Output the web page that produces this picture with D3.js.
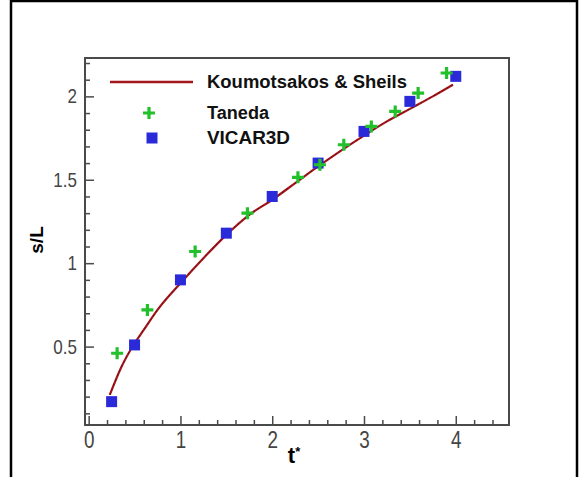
<!DOCTYPE html>
<html>
<head>
<meta charset="utf-8">
<script src="https://cdn.jsdelivr.net/npm/d3@7"></script>
<style>
  html, body { margin: 0; padding: 0; background: #fff; }
  svg { display: block; }
</style>
</head>
<body>
<svg id="chart" width="579" height="477"></svg>
<script>
// Koumotsakos & Sheils reference curve
const ksT = [0.23, 0.35, 0.5, 0.6, 0.75, 1.0, 1.25, 1.5, 1.75, 2.0, 2.25, 2.5, 2.75, 3.0, 3.25, 3.5, 3.75, 3.97];
const ksS = [0.21, 0.37, 0.52, 0.60, 0.72, 0.88, 1.03, 1.17, 1.29, 1.38, 1.48, 1.58, 1.675, 1.765, 1.85, 1.925, 2.0, 2.07];

// Taneda experiment
const tanedaT = [0.31, 0.64, 1.16, 1.73, 2.28, 2.52, 2.78, 3.08, 3.34, 3.59, 3.90];
const tanedaS = [0.46, 0.72, 1.07, 1.30, 1.515, 1.59, 1.71, 1.82, 1.91, 2.02, 2.14];

// VICAR3D simulation
const vicarT = [0.25, 0.5, 1.0, 1.5, 2.0, 2.5, 3.0, 3.5, 4.0];
const vicarS = [0.17, 0.51, 0.90, 1.18, 1.40, 1.60, 1.79, 1.97, 2.12];

const xTicks = [0, 1, 2, 3, 4];
const yTicks = [0.5, 1, 1.5, 2];
const seriesNames = ["Koumotsakos & Sheils", "Taneda", "VICAR3D"];

const svg = d3.select("#chart");
const box = { left: 85, right: 509, top: 58, bottom: 425 };

const x = d3.scaleLinear().domain([-0.04, 4.58]).range([box.left, box.right]);
const y = d3.scaleLinear().domain([0.03, 2.23]).range([box.bottom, box.top]);

const axisColor = "#4a4a4a";
const labelFont = "'Liberation Sans', Arial, sans-serif";

// outer frame
svg.append("rect")
  .attr("x", 11).attr("y", 1).attr("width", 566).attr("height", 490)
  .attr("fill", "none").attr("stroke", "#000").attr("stroke-width", 2.5);

// plot box
svg.append("rect")
  .attr("x", box.left).attr("y", box.top)
  .attr("width", box.right - box.left).attr("height", box.bottom - box.top)
  .attr("fill", "none").attr("stroke", axisColor).attr("stroke-width", 2);

// minor ticks
const xMinor = d3.range(0.2, 4.5, 0.2).filter(v => Math.abs(v - Math.round(v)) > 1e-6);
const yMinor = d3.range(0.1, 2.21, 0.1).filter(v => Math.abs(v * 2 - Math.round(v * 2)) > 1e-6);

const gx = svg.append("g").attr("transform", `translate(0,${box.bottom})`);
gx.call(d3.axisBottom(x).tickValues(xMinor).tickSize(-5).tickFormat(""));
gx.append("g").call(d3.axisBottom(x).tickValues(xTicks).tickSize(-9).tickPadding(0)
  .tickFormat(d3.format("d")));
gx.selectAll(".domain").remove();
gx.selectAll("line").attr("stroke", axisColor).attr("stroke-width", 1.5);
gx.selectAll("text").attr("fill", "#444").attr("font-family", labelFont)
  .attr("font-size", 23).attr("y", 0).attr("dy", 0)
  .attr("transform", "translate(0,23) scale(0.82,1)");

const gy = svg.append("g").attr("transform", `translate(${box.left},0)`);
gy.call(d3.axisLeft(y).tickValues(yMinor).tickSize(-5).tickFormat(""));
gy.append("g").call(d3.axisLeft(y).tickValues(yTicks).tickSize(-9).tickPadding(0)
  .tickFormat(d3.format("")));
gy.selectAll(".domain").remove();
gy.selectAll("line").attr("stroke", axisColor).attr("stroke-width", 1.5);
gy.selectAll("text").attr("fill", "#444").attr("font-family", labelFont)
  .attr("font-size", 20).attr("x", 0)
  .attr("transform", "translate(-8,0) scale(0.85,1)");

// axis titles
const tTitle = svg.append("text")
  .attr("x", 294).attr("y", 463)
  .attr("text-anchor", "middle")
  .attr("font-family", labelFont).attr("font-weight", "bold").attr("font-size", 22)
  .attr("fill", "#000");
tTitle.append("tspan").text("t");
tTitle.append("tspan").attr("font-size", 13).attr("dy", -7).text("*");

svg.append("text")
  .attr("transform", "translate(43,240) rotate(-90)")
  .attr("text-anchor", "middle")
  .attr("font-family", labelFont).attr("font-weight", "bold").attr("font-size", 19)
  .attr("fill", "#000").text("s/L");

// reference curve
const lineColor = "#a3161c";
const ksData = ksT.map((t, i) => [t, ksS[i]]);
const line = d3.line().x(d => x(d[0])).y(d => y(d[1])).curve(d3.curveMonotoneX);
svg.append("path").datum(ksData)
  .attr("d", line).attr("fill", "none")
  .attr("stroke", lineColor).attr("stroke-width", 2.2);
svg.append("path").datum(ksData)
  .attr("d", line).attr("fill", "none")
  .attr("stroke", "#3a0a0a").attr("stroke-width", 1).attr("stroke-dasharray", "2,3")
  .attr("opacity", 0.55);

// markers
const green = "#22c02a";
const blue = "#2a2ad8";
function cross(g, cx, cy) {
  g.append("path")
    .attr("d", `M${cx - 6},${cy}H${cx + 6}M${cx},${cy - 6}V${cy + 6}`)
    .attr("stroke", green).attr("stroke-width", 3.2).attr("fill", "none");
}
function square(g, cx, cy) {
  g.append("rect")
    .attr("x", cx - 5.5).attr("y", cy - 5.5).attr("width", 11).attr("height", 11)
    .attr("fill", blue);
}

const gm = svg.append("g");
vicarT.forEach((t, i) => square(gm, x(t), y(vicarS[i])));
tanedaT.forEach((t, i) => cross(gm, x(t), y(tanedaS[i])));

// legend
const lg = svg.append("g");
lg.append("line").attr("x1", 110).attr("x2", 193).attr("y1", 82).attr("y2", 82)
  .attr("stroke", lineColor).attr("stroke-width", 2.5);
cross(lg, 149, 113);
square(lg, 152, 138);
const legendY = [82, 113, 138];
const legendW = [200, 62, 83];
seriesNames.forEach((name, i) => {
  lg.append("text")
    .attr("x", 207).attr("y", legendY[i]).attr("dy", "0.36em")
    .attr("font-family", labelFont).attr("font-weight", "bold").attr("font-size", 18)
    .attr("textLength", legendW[i]).attr("lengthAdjust", "spacingAndGlyphs")
    .attr("fill", "#111").text(name);
});
</script>
</body>
</html>
